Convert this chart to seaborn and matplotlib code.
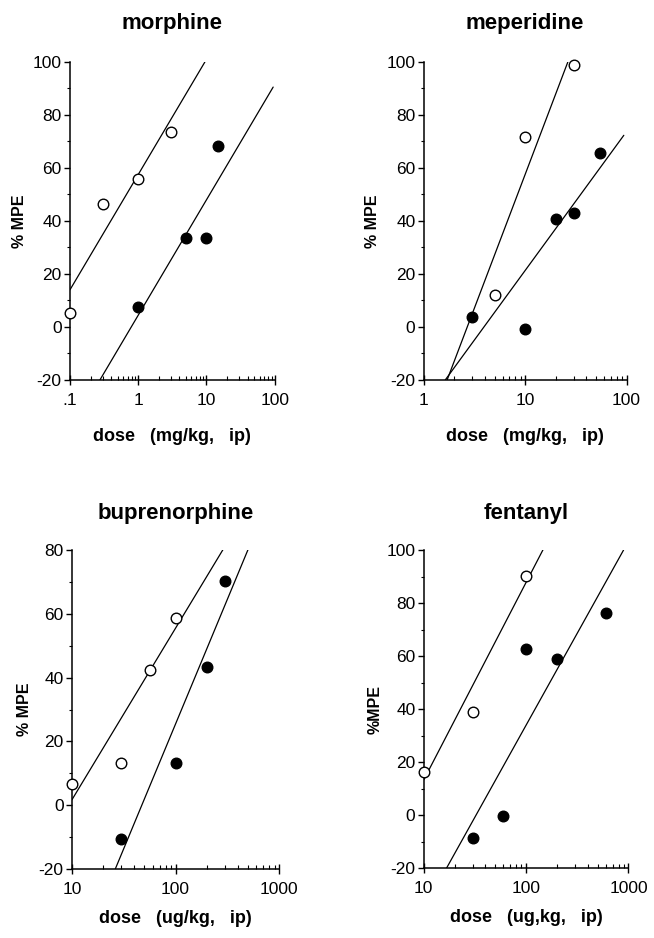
import matplotlib
matplotlib.use("Agg")
import matplotlib.pyplot as plt
import matplotlib.ticker as mticker
import pandas as pd
import seaborn as sns

sns.set_style("ticks")
plt.rcParams["font.family"] = ["Liberation Sans", "DejaVu Sans"]
plt.rcParams["axes.unicode_minus"] = False
plt.rcParams["text.color"] = "black"
plt.rcParams["axes.labelcolor"] = "black"
plt.rcParams["xtick.color"] = "black"
plt.rcParams["ytick.color"] = "black"

# morphine (mg/kg)
morphine_open_x = [0.1, 0.3, 1, 3]
morphine_open_y = [5.4, 46.3, 56, 73.5]
morphine_fill_x = [1, 5, 10, 15]
morphine_fill_y = [7.5, 33.5, 33.5, 68.3]
morphine_open_line_x = [0.1, 9.5]
morphine_open_line_y = [14, 100]
morphine_fill_line_x = [0.275, 95]
morphine_fill_line_y = [-20, 90.5]

# meperidine (mg/kg)
meperidine_open_x = [5, 10, 30]
meperidine_open_y = [12, 71.5, 98.7]
meperidine_fill_x = [3, 10, 20, 30, 55]
meperidine_fill_y = [3.9, -0.8, 40.7, 42.8, 65.7]
meperidine_open_line_x = [1.7, 27.3]
meperidine_open_line_y = [-20, 101.5]
meperidine_fill_line_x = [1.63, 94]
meperidine_fill_line_y = [-20, 72.3]

# buprenorphine (ug/kg)
bup_open_x = [10, 30, 57, 100]
bup_open_y = [6.6, 13.2, 42.4, 58.8]
bup_fill_x = [30, 100, 200, 300]
bup_fill_y = [-10.6, 13.2, 43.2, 70.3]
bup_open_line_x = [10, 291]
bup_open_line_y = [1.7, 80.5]
bup_fill_line_x = [26.2, 505]
bup_fill_line_y = [-20, 80.5]

# fentanyl (ug/kg)
fent_open_x = [10, 30, 100]
fent_open_y = [16.4, 38.8, 90.3]
fent_fill_x = [30, 60, 100, 200, 600]
fent_fill_y = [-8.7, -0.2, 62.5, 58.9, 76.4]
fent_open_line_x = [10, 147]
fent_open_line_y = [13.3, 100.3]
fent_fill_line_x = [16.7, 895]
fent_fill_line_y = [-20, 100]

panels = [
    dict(title="morphine", ylabel="% MPE", xlabel="dose   (mg/kg,   ip)",
         pos=[0.107, 0.595, 0.313, 0.339], xlim=(0.1, 100), ylim=(-20, 100),
         xticks=[0.1, 1, 10, 100], xticklabels=[".1", "1", "10", "100"],
         yticks=[-20, 0, 20, 40, 60, 80, 100], xpad=14, tpad=24, ypad=4,
         open=(morphine_open_x, morphine_open_y), fill=(morphine_fill_x, morphine_fill_y),
         lines=[(morphine_open_line_x, morphine_open_line_y),
                (morphine_fill_line_x, morphine_fill_line_y)]),
    dict(title="meperidine", ylabel="% MPE", xlabel="dose   (mg/kg,   ip)",
         pos=[0.648, 0.595, 0.310, 0.339], xlim=(1, 100), ylim=(-20, 100),
         xticks=[1, 10, 100], xticklabels=["1", "10", "100"],
         yticks=[-20, 0, 20, 40, 60, 80, 100], xpad=14, tpad=24, ypad=5,
         open=(meperidine_open_x, meperidine_open_y), fill=(meperidine_fill_x, meperidine_fill_y),
         lines=[(meperidine_open_line_x, meperidine_open_line_y),
                (meperidine_fill_line_x, meperidine_fill_line_y)]),
    dict(title="buprenorphine", ylabel="% MPE", xlabel="dose   (ug/kg,   ip)",
         pos=[0.110, 0.0736, 0.317, 0.340], xlim=(10, 1000), ylim=(-20, 80),
         xticks=[10, 100, 1000], xticklabels=["10", "100", "1000"],
         yticks=[-20, 0, 20, 40, 60, 80], xpad=9, tpad=22, ypad=5,
         open=(bup_open_x, bup_open_y), fill=(bup_fill_x, bup_fill_y),
         lines=[(bup_open_line_x, bup_open_line_y),
                (bup_fill_line_x, bup_fill_line_y)]),
    dict(title="fentanyl", ylabel="%MPE", xlabel="dose   (ug,kg,   ip)",
         pos=[0.648, 0.0746, 0.313, 0.339], xlim=(10, 1000), ylim=(-20, 100),
         xticks=[10, 100, 1000], xticklabels=["10", "100", "1000"],
         yticks=[-20, 0, 20, 40, 60, 80, 100], xpad=9, tpad=22, ypad=3,
         open=(fent_open_x, fent_open_y), fill=(fent_fill_x, fent_fill_y),
         lines=[(fent_open_line_x, fent_open_line_y),
                (fent_fill_line_x, fent_fill_line_y)]),
]

fig = plt.figure(figsize=(6.54, 9.38), dpi=100)

for p in panels:
    ax = fig.add_axes(p["pos"])
    ax.set_xscale("log")

    for lx, ly in p["lines"]:
        sns.lineplot(x=lx, y=ly, ax=ax, color="black", linewidth=0.9, sort=False)

    sns.scatterplot(x=p["open"][0], y=p["open"][1], ax=ax, s=58, marker="o",
                    facecolor="white", edgecolor="black", linewidth=1.0, zorder=3, clip_on=False)
    sns.scatterplot(x=p["fill"][0], y=p["fill"][1], ax=ax, s=58, marker="o",
                    color="black", edgecolor="black", linewidth=1.0, zorder=3, clip_on=False)

    ax.set_xlim(*p["xlim"])
    ax.set_ylim(*p["ylim"])
    ax.set_xticks(p["xticks"])
    ax.set_xticklabels(p["xticklabels"])
    ax.xaxis.set_minor_locator(mticker.LogLocator(base=10, subs=range(2, 10)))
    ax.xaxis.set_minor_formatter(mticker.NullFormatter())
    ax.set_yticks(p["yticks"])
    ax.yaxis.set_minor_locator(mticker.MultipleLocator(10))

    ax.tick_params(axis="x", which="major", direction="inout", length=7, width=1.0,
                   labelsize=12.5, pad=6)
    ax.tick_params(axis="x", which="minor", direction="in", length=3, width=0.8)
    ax.tick_params(axis="y", which="major", direction="out", length=4, width=1.0,
                   labelsize=12.5, pad=2)
    ax.tick_params(axis="y", which="minor", direction="out", length=2.5, width=0.8)

    for side in ("top", "right"):
        ax.spines[side].set_visible(False)
    for side in ("left", "bottom"):
        ax.spines[side].set_linewidth(1.1)
        ax.spines[side].set_color("black")

    ax.set_ylabel(p["ylabel"], fontsize=11.5, fontweight="bold", labelpad=p["ypad"])
    ax.set_xlabel(p["xlabel"], fontsize=13, fontweight="bold", labelpad=p["xpad"])
    ax.set_title(p["title"], fontsize=16, fontweight="bold", pad=p["tpad"])

fig.savefig("out.png", dpi=100, facecolor="white")
